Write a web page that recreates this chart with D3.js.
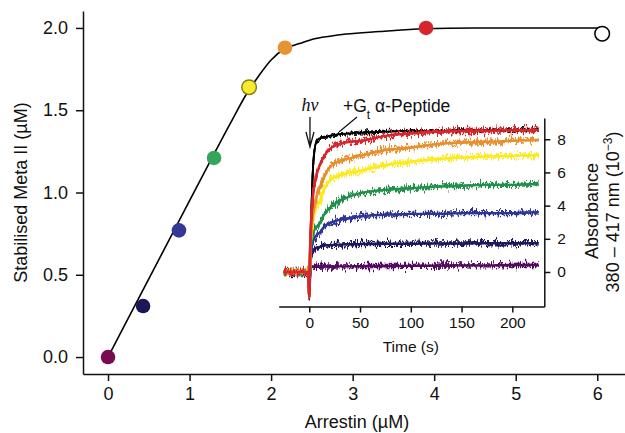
<!DOCTYPE html>
<html>
<head>
<meta charset="utf-8">
<script src="https://cdn.jsdelivr.net/npm/d3@7"></script>
<style>
  html, body { margin: 0; padding: 0; background: #fff; }
  svg { display: block; font-family: "Liberation Sans", Arial, Helvetica, sans-serif; }
</style>
</head>
<body>
<svg id="chart" width="625" height="433"></svg>
<script>
// ---- Titration: stabilised Meta II vs. arrestin ----
const arrestin = [0, 0.43, 0.87, 1.30, 1.73, 2.17, 3.90, 6.06];
const metaII   = [0, 0.31, 0.77, 1.21, 1.64, 1.88, 2.00, 1.965];
const dotFill  = ["#7a0a50", "#1c1858", "#343895", "#33a65c", "#f7ec2c", "#e59434", "#d4262c", "#ffffff"];
const dotLine  = ["none", "none", "none", "none", "#8c7d14", "none", "none", "#000000"];

// fitted binding curve
const fitX = [0, 0.5, 1.0, 1.5, 1.7, 1.85, 2.0, 2.17, 2.35, 2.52, 2.72, 2.92, 3.33, 3.86, 4.5, 5.2, 6.06];
const fitY = [0, 0.475, 0.95, 1.42, 1.60, 1.71, 1.805, 1.875, 1.905, 1.933, 1.95, 1.963, 1.978, 1.995, 2.0, 2.0, 2.0];

const xTicks = [0, 1, 2, 3, 4, 5, 6];
const yTicks = [0, 0.5, 1.0, 1.5, 2.0];

// ---- Inset: absorbance traces after the flash ----
const time = [-25, -1, 0, 1, 2, 4, 7, 10, 15, 20, 30, 40, 50, 75, 100, 125, 150, 175, 200, 226];
const traceBlack  = [0, 0, -1.5, 1.0, 3.4, 6.6, 7.85, 8.05, 8.1, 8.2, 8.3, 8.35, 8.4, 8.45, 8.5, 8.5, 8.55, 8.55, 8.55, 8.6];
const traceRed    = [0, 0, -1.5, 1.8, 3.2, 4.8, 5.8, 6.4, 7.0, 7.4, 7.7, 7.85, 7.9, 8.2, 8.35, 8.45, 8.5, 8.5, 8.55, 8.55];
const traceOrange = [0, 0, -1.5, 1.5, 2.5, 3.7, 4.5, 5.0, 5.8, 6.3, 6.7, 6.85, 7.0, 7.35, 7.5, 7.7, 7.8, 7.85, 7.9, 7.95];
const traceYellow = [0, 0, -1.5, 1.3, 2.2, 3.2, 3.9, 4.2, 5.0, 5.5, 5.85, 6.0, 6.1, 6.45, 6.65, 6.8, 6.9, 6.95, 7.0, 7.05];
const traceGreen  = [0, 0, -1.5, 1.1, 1.8, 2.4, 2.7, 2.9, 3.5, 3.85, 4.3, 4.55, 4.75, 4.95, 5.05, 5.15, 5.2, 5.25, 5.25, 5.3];
const traceBlue   = [0, 0, -1.5, 0.9, 1.4, 1.9, 2.2, 2.35, 2.75, 2.95, 3.15, 3.25, 3.35, 3.45, 3.5, 3.5, 3.55, 3.55, 3.55, 3.6];
const traceNavy   = [0, 0, -1.5, 0.7, 1.0, 1.3, 1.45, 1.5, 1.6, 1.62, 1.65, 1.67, 1.68, 1.7, 1.7, 1.72, 1.72, 1.73, 1.73, 1.73];
const tracePurple = [0, 0, -1.5, 0.2, 0.3, 0.32, 0.32, 0.32, 0.33, 0.33, 0.34, 0.34, 0.35, 0.36, 0.37, 0.38, 0.4, 0.4, 0.42, 0.42];

const traces = [
  { values: traceBlack,  color: "#000000", seed: 2 },
  { values: tracePurple, color: "#52095f", seed: 5 },
  { values: traceNavy,   color: "#1b185e", seed: 7 },
  { values: traceBlue,   color: "#2f3596", seed: 11 },
  { values: traceGreen,  color: "#22904a", seed: 13 },
  { values: traceYellow, color: "#fbea1e", seed: 17 },
  { values: traceOrange, color: "#e8902e", seed: 19 },
  { values: traceRed,    color: "#d9262b", seed: 23 }
];
const tTicks = [0, 50, 100, 150, 200];
const aTicks = [0, 2, 4, 6, 8];

const svg = d3.select("#chart");
const FONT = 18;

// ---------- main panel ----------
const x = d3.scaleLinear().domain([-0.307, 6.34]).range([83, 625]);
const y = d3.scaleLinear().domain([-0.103, 2.103]).range([374, 11]);

const gx = svg.append("g").attr("transform", `translate(0,${y(-0.103)})`)
  .call(d3.axisBottom(x).tickValues(xTicks).tickFormat(d3.format("d")).tickSize(7).tickSizeOuter(0).tickPadding(6));
const gy = svg.append("g").attr("transform", `translate(${x(-0.307)},0)`)
  .call(d3.axisLeft(y).tickValues(yTicks).tickFormat(d3.format(".1f")).tickSize(7).tickSizeOuter(0).tickPadding(8));
[gx, gy].forEach(g => {
  g.selectAll("path.domain").attr("stroke", "#111").attr("stroke-width", 1.5);
  g.selectAll(".tick line").attr("stroke", "#111").attr("stroke-width", 1.5);
  g.selectAll(".tick text").attr("fill", "#111").style("font-size", FONT + "px")
    .style("font-family", '"Liberation Sans", Arial, sans-serif');
});

svg.append("text").attr("x", 357).attr("y", 428).attr("text-anchor", "middle")
  .style("font-size", FONT + "px").attr("fill", "#111").text("Arrestin (µM)");
svg.append("text").attr("transform", "translate(21,192.5) rotate(-90)").attr("dy", "0.35em")
  .attr("text-anchor", "middle").style("font-size", FONT + "px").attr("fill", "#111")
  .text("Stabilised Meta II (µM)");

// fitted curve
const fitLine = d3.line().x(d => x(d[0])).y(d => y(d[1])).curve(d3.curveMonotoneX);
svg.append("path").datum(fitX.map((v, i) => [v, fitY[i]]))
  .attr("d", fitLine).attr("fill", "none").attr("stroke", "#000").attr("stroke-width", 1.6);

// ---------- inset panel ----------
const ix = d3.scaleLinear().domain([-30.1, 231.5]).range([278.7, 544.3]);
const iy = d3.scaleLinear().domain([-2.08, 9.28]).range([306.5, 118]);

// measurement noise: a solid trace merged with two vertically jittered copies of itself
const defs = svg.append("defs");
traces.forEach((tr, i) => {
  const f = defs.append("filter").attr("id", "jit" + i)
    .attr("filterUnits", "userSpaceOnUse")
    .attr("x", 270).attr("y", 100).attr("width", 290).attr("height", 220)
    .attr("color-interpolation-filters", "sRGB");
  [0, 1].forEach(k => {
    f.append("feTurbulence").attr("type", "fractalNoise")
      .attr("baseFrequency", k ? "0.8 0.1" : "0.45 0.06").attr("numOctaves", 2)
      .attr("seed", tr.seed + 31 * k).attr("result", "n" + k);
    f.append("feColorMatrix").attr("in", "n" + k).attr("type", "matrix")
      .attr("values", "0 0 0 0 0.5  0 1 0 0 0  0 0 0 0 0  0 0 0 0 1").attr("result", "m" + k);
    f.append("feDisplacementMap").attr("in", "SourceGraphic").attr("in2", "m" + k)
      .attr("scale", i === 0 ? 9 : 16).attr("xChannelSelector", "R").attr("yChannelSelector", "G")
      .attr("result", "d" + k);
  });
  const mg = f.append("feMerge");
  mg.append("feMergeNode").attr("in", "SourceGraphic");
  mg.append("feMergeNode").attr("in", "d0");
  mg.append("feMergeNode").attr("in", "d1");
});

const traceLine = d3.line().x((d, i) => ix(time[i])).y(d => iy(d)).curve(d3.curveMonotoneX);
traces.forEach((tr, i) => {
  svg.append("path").datum(tr.values).attr("d", traceLine)
    .attr("fill", "none").attr("stroke", tr.color)
    .attr("stroke-width", i === 0 ? 1.8 : 2.4)
    .attr("stroke-linejoin", "round")
    .attr("filter", `url(#jit${i})`);
});

const ibx = svg.append("g").attr("transform", `translate(0,${iy(-2.08)})`)
  .call(d3.axisBottom(ix).tickValues(tTicks).tickSize(6).tickSizeOuter(0).tickPadding(4));
const iby = svg.append("g").attr("transform", `translate(${ix(231.5)},0)`)
  .call(d3.axisRight(iy).tickValues(aTicks).tickSize(6).tickSizeOuter(0).tickPadding(7));
[ibx, iby].forEach(g => {
  g.selectAll("path.domain").attr("stroke", "#111").attr("stroke-width", 1.5);
  g.selectAll(".tick line").attr("stroke", "#111").attr("stroke-width", 1.5);
  g.selectAll(".tick text").attr("fill", "#111").style("font-size", "15.5px")
    .style("font-family", '"Liberation Sans", Arial, sans-serif');
});

svg.append("text").attr("x", ix(100)).attr("y", 352).attr("text-anchor", "middle")
  .style("font-size", "15.5px").attr("fill", "#111").text("Time (s)");
svg.append("text").attr("transform", "translate(591.5,211) rotate(-90)").attr("dy", "0.35em")
  .attr("text-anchor", "middle").style("font-size", FONT + "px").attr("fill", "#111").text("Absorbance");
const t2 = svg.append("text").attr("transform", "translate(613,212) rotate(-90)").attr("dy", "0.35em")
  .attr("text-anchor", "middle").style("font-size", FONT + "px").attr("fill", "#111");
t2.append("tspan").text("380 – 417 nm (10");
t2.append("tspan").attr("baseline-shift", "super").style("font-size", "12px").text("−3");
t2.append("tspan").text(")");

// flash marker
svg.append("text").attr("x", 301.5).attr("y", 111)
  .style("font-family", '"Liberation Serif", "Times New Roman", serif').style("font-style", "italic")
  .style("font-size", "18px").attr("fill", "#111").text("hν");
const ax = ix(0.7);
svg.append("path").attr("d", `M${ax},117 L${ax},147 M${ax - 4},132 L${ax},147 L${ax + 4},132`)
  .attr("fill", "none").attr("stroke", "#111").attr("stroke-width", 1.3);

// peptide label with leader
const pep = svg.append("text").attr("x", 343).attr("y", 112).style("font-size", "17.5px").attr("fill", "#111");
pep.append("tspan").text("+G");
pep.append("tspan").attr("baseline-shift", "sub").style("font-size", "12px").text("t");
pep.append("tspan").text(" α-Peptide");
svg.append("line").attr("x1", 357).attr("y1", 117).attr("x2", 339).attr("y2", 132)
  .attr("stroke", "#111").attr("stroke-width", 1.2);

// data points on top
svg.append("g").selectAll("circle").data(arrestin).join("circle")
  .attr("cx", d => x(d)).attr("cy", (d, i) => y(metaII[i])).attr("r", 7.3)
  .attr("fill", (d, i) => dotFill[i])
  .attr("stroke", (d, i) => dotLine[i])
  .attr("stroke-width", 1.5);
</script>
</body>
</html>
